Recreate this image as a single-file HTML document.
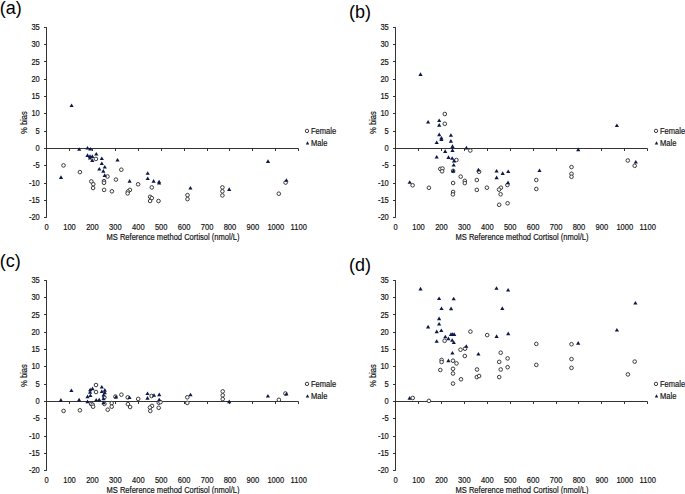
<!DOCTYPE html>
<html><head><meta charset="utf-8"><style>
html,body{margin:0;padding:0;background:#fff;}
body{width:685px;height:494px;overflow:hidden;}
svg{display:block;font-family:"Liberation Sans",sans-serif;}
</style></head><body>
<svg width="685" height="494" viewBox="0 0 685 494">
<g transform="translate(0,0)">
<text x="-0.2" y="14.2" font-size="18" fill="#000">(a)</text>
<path d="M46.5 27.26V217.78" stroke="#333" stroke-width="1" fill="none"/>
<path d="M46.5 148.5H298.5" stroke="#333" stroke-width="1" fill="none"/>
<path d="M44 27.5H46.5M44 44.5H46.5M44 61.5H46.5M44 79.5H46.5M44 96.5H46.5M44 113.5H46.5M44 131.5H46.5M44 148.5H46.5M44 165.5H46.5M44 183.5H46.5M44 200.5H46.5M44 217.5H46.5M69.5 148.5V151.0M92.5 148.5V151.0M115.5 148.5V151.0M138.5 148.5V151.0M161.5 148.5V151.0M184.5 148.5V151.0M207.5 148.5V151.0M229.5 148.5V151.0M252.5 148.5V151.0M275.5 148.5V151.0M298.5 148.5V151.0" stroke="#333" stroke-width="1" fill="none"/>
<g font-size="8.8" fill="#111" stroke="#111" stroke-width="0.18">
<text transform="translate(39.8,29.86) scale(0.86,1)" text-anchor="end">35</text>
<text transform="translate(39.8,47.18) scale(0.86,1)" text-anchor="end">30</text>
<text transform="translate(39.8,64.5) scale(0.86,1)" text-anchor="end">25</text>
<text transform="translate(39.8,81.82) scale(0.86,1)" text-anchor="end">20</text>
<text transform="translate(39.8,99.14) scale(0.86,1)" text-anchor="end">15</text>
<text transform="translate(39.8,116.46) scale(0.86,1)" text-anchor="end">10</text>
<text transform="translate(39.8,133.78) scale(0.86,1)" text-anchor="end">5</text>
<text transform="translate(39.8,151.1) scale(0.86,1)" text-anchor="end">0</text>
<text transform="translate(39.8,168.42) scale(0.86,1)" text-anchor="end">-5</text>
<text transform="translate(39.8,185.74) scale(0.86,1)" text-anchor="end">-10</text>
<text transform="translate(39.8,203.06) scale(0.86,1)" text-anchor="end">-15</text>
<text transform="translate(39.8,220.38) scale(0.86,1)" text-anchor="end">-20</text>
<text transform="translate(46.6,229.6) scale(0.86,1)" text-anchor="middle">0</text>
<text transform="translate(69.52,229.6) scale(0.86,1)" text-anchor="middle">100</text>
<text transform="translate(92.44,229.6) scale(0.86,1)" text-anchor="middle">200</text>
<text transform="translate(115.36,229.6) scale(0.86,1)" text-anchor="middle">300</text>
<text transform="translate(138.28,229.6) scale(0.86,1)" text-anchor="middle">400</text>
<text transform="translate(161.2,229.6) scale(0.86,1)" text-anchor="middle">500</text>
<text transform="translate(184.12,229.6) scale(0.86,1)" text-anchor="middle">600</text>
<text transform="translate(207.04,229.6) scale(0.86,1)" text-anchor="middle">700</text>
<text transform="translate(229.96,229.6) scale(0.86,1)" text-anchor="middle">800</text>
<text transform="translate(252.88,229.6) scale(0.86,1)" text-anchor="middle">900</text>
<text transform="translate(275.8,229.6) scale(0.86,1)" text-anchor="middle">1000</text>
<text transform="translate(298.72,229.6) scale(0.86,1)" text-anchor="middle">1100</text>
<text transform="translate(173,240.2) scale(0.86,1)" text-anchor="middle">MS Reference method Cortisol (nmol/L)</text>
<text transform="translate(26.8,122.6) rotate(-90) scale(0.86,1)" text-anchor="middle">% bias</text>
<text transform="translate(311,133.5) scale(0.92,1)" font-size="8.2">Female</text>
<text transform="translate(311,145.8) scale(0.92,1)" font-size="8.2">Male</text>
</g>
<circle cx="307" cy="130.9" r="1.7" fill="#fff" stroke="#3a3a3a" stroke-width="1.0"/>
<path d="M307.5 141.19L309.2 144.49H305.8Z" fill="#0c1848"/>
</g>
<g transform="translate(349,0)">
<text x="0" y="17.8" font-size="18" fill="#000">(b)</text>
<path d="M46.5 27.26V217.78" stroke="#333" stroke-width="1" fill="none"/>
<path d="M46.5 148.5H298.5" stroke="#333" stroke-width="1" fill="none"/>
<path d="M44 27.5H46.5M44 44.5H46.5M44 61.5H46.5M44 79.5H46.5M44 96.5H46.5M44 113.5H46.5M44 131.5H46.5M44 148.5H46.5M44 165.5H46.5M44 183.5H46.5M44 200.5H46.5M44 217.5H46.5M69.5 148.5V151.0M92.5 148.5V151.0M115.5 148.5V151.0M138.5 148.5V151.0M161.5 148.5V151.0M184.5 148.5V151.0M207.5 148.5V151.0M229.5 148.5V151.0M252.5 148.5V151.0M275.5 148.5V151.0M298.5 148.5V151.0" stroke="#333" stroke-width="1" fill="none"/>
<g font-size="8.8" fill="#111" stroke="#111" stroke-width="0.18">
<text transform="translate(39.8,29.86) scale(0.86,1)" text-anchor="end">35</text>
<text transform="translate(39.8,47.18) scale(0.86,1)" text-anchor="end">30</text>
<text transform="translate(39.8,64.5) scale(0.86,1)" text-anchor="end">25</text>
<text transform="translate(39.8,81.82) scale(0.86,1)" text-anchor="end">20</text>
<text transform="translate(39.8,99.14) scale(0.86,1)" text-anchor="end">15</text>
<text transform="translate(39.8,116.46) scale(0.86,1)" text-anchor="end">10</text>
<text transform="translate(39.8,133.78) scale(0.86,1)" text-anchor="end">5</text>
<text transform="translate(39.8,151.1) scale(0.86,1)" text-anchor="end">0</text>
<text transform="translate(39.8,168.42) scale(0.86,1)" text-anchor="end">-5</text>
<text transform="translate(39.8,185.74) scale(0.86,1)" text-anchor="end">-10</text>
<text transform="translate(39.8,203.06) scale(0.86,1)" text-anchor="end">-15</text>
<text transform="translate(39.8,220.38) scale(0.86,1)" text-anchor="end">-20</text>
<text transform="translate(46.6,229.6) scale(0.86,1)" text-anchor="middle">0</text>
<text transform="translate(69.52,229.6) scale(0.86,1)" text-anchor="middle">100</text>
<text transform="translate(92.44,229.6) scale(0.86,1)" text-anchor="middle">200</text>
<text transform="translate(115.36,229.6) scale(0.86,1)" text-anchor="middle">300</text>
<text transform="translate(138.28,229.6) scale(0.86,1)" text-anchor="middle">400</text>
<text transform="translate(161.2,229.6) scale(0.86,1)" text-anchor="middle">500</text>
<text transform="translate(184.12,229.6) scale(0.86,1)" text-anchor="middle">600</text>
<text transform="translate(207.04,229.6) scale(0.86,1)" text-anchor="middle">700</text>
<text transform="translate(229.96,229.6) scale(0.86,1)" text-anchor="middle">800</text>
<text transform="translate(252.88,229.6) scale(0.86,1)" text-anchor="middle">900</text>
<text transform="translate(275.8,229.6) scale(0.86,1)" text-anchor="middle">1000</text>
<text transform="translate(298.72,229.6) scale(0.86,1)" text-anchor="middle">1100</text>
<text transform="translate(173,240.2) scale(0.86,1)" text-anchor="middle">MS Reference method Cortisol (nmol/L)</text>
<text transform="translate(26.8,122.6) rotate(-90) scale(0.86,1)" text-anchor="middle">% bias</text>
<text transform="translate(311,133.5) scale(0.92,1)" font-size="8.2">Female</text>
<text transform="translate(311,145.8) scale(0.92,1)" font-size="8.2">Male</text>
</g>
<circle cx="307" cy="130.9" r="1.7" fill="#fff" stroke="#3a3a3a" stroke-width="1.0"/>
<path d="M307.5 141.19L309.2 144.49H305.8Z" fill="#0c1848"/>
</g>
<g transform="translate(0,253)">
<text x="-0.2" y="14.2" font-size="18" fill="#000">(c)</text>
<path d="M46.5 27.26V217.78" stroke="#333" stroke-width="1" fill="none"/>
<path d="M46.5 148.5H298.5" stroke="#333" stroke-width="1" fill="none"/>
<path d="M44 27.5H46.5M44 44.5H46.5M44 61.5H46.5M44 79.5H46.5M44 96.5H46.5M44 113.5H46.5M44 131.5H46.5M44 148.5H46.5M44 165.5H46.5M44 183.5H46.5M44 200.5H46.5M44 217.5H46.5M69.5 148.5V151.0M92.5 148.5V151.0M115.5 148.5V151.0M138.5 148.5V151.0M161.5 148.5V151.0M184.5 148.5V151.0M207.5 148.5V151.0M229.5 148.5V151.0M252.5 148.5V151.0M275.5 148.5V151.0M298.5 148.5V151.0" stroke="#333" stroke-width="1" fill="none"/>
<g font-size="8.8" fill="#111" stroke="#111" stroke-width="0.18">
<text transform="translate(39.8,29.86) scale(0.86,1)" text-anchor="end">35</text>
<text transform="translate(39.8,47.18) scale(0.86,1)" text-anchor="end">30</text>
<text transform="translate(39.8,64.5) scale(0.86,1)" text-anchor="end">25</text>
<text transform="translate(39.8,81.82) scale(0.86,1)" text-anchor="end">20</text>
<text transform="translate(39.8,99.14) scale(0.86,1)" text-anchor="end">15</text>
<text transform="translate(39.8,116.46) scale(0.86,1)" text-anchor="end">10</text>
<text transform="translate(39.8,133.78) scale(0.86,1)" text-anchor="end">5</text>
<text transform="translate(39.8,151.1) scale(0.86,1)" text-anchor="end">0</text>
<text transform="translate(39.8,168.42) scale(0.86,1)" text-anchor="end">-5</text>
<text transform="translate(39.8,185.74) scale(0.86,1)" text-anchor="end">-10</text>
<text transform="translate(39.8,203.06) scale(0.86,1)" text-anchor="end">-15</text>
<text transform="translate(39.8,220.38) scale(0.86,1)" text-anchor="end">-20</text>
<text transform="translate(46.6,229.6) scale(0.86,1)" text-anchor="middle">0</text>
<text transform="translate(69.52,229.6) scale(0.86,1)" text-anchor="middle">100</text>
<text transform="translate(92.44,229.6) scale(0.86,1)" text-anchor="middle">200</text>
<text transform="translate(115.36,229.6) scale(0.86,1)" text-anchor="middle">300</text>
<text transform="translate(138.28,229.6) scale(0.86,1)" text-anchor="middle">400</text>
<text transform="translate(161.2,229.6) scale(0.86,1)" text-anchor="middle">500</text>
<text transform="translate(184.12,229.6) scale(0.86,1)" text-anchor="middle">600</text>
<text transform="translate(207.04,229.6) scale(0.86,1)" text-anchor="middle">700</text>
<text transform="translate(229.96,229.6) scale(0.86,1)" text-anchor="middle">800</text>
<text transform="translate(252.88,229.6) scale(0.86,1)" text-anchor="middle">900</text>
<text transform="translate(275.8,229.6) scale(0.86,1)" text-anchor="middle">1000</text>
<text transform="translate(298.72,229.6) scale(0.86,1)" text-anchor="middle">1100</text>
<text transform="translate(173,240.2) scale(0.86,1)" text-anchor="middle">MS Reference method Cortisol (nmol/L)</text>
<text transform="translate(26.8,122.6) rotate(-90) scale(0.86,1)" text-anchor="middle">% bias</text>
<text transform="translate(311,133.5) scale(0.92,1)" font-size="8.2">Female</text>
<text transform="translate(311,145.8) scale(0.92,1)" font-size="8.2">Male</text>
</g>
<circle cx="307" cy="130.9" r="1.7" fill="#fff" stroke="#3a3a3a" stroke-width="1.0"/>
<path d="M307.5 141.19L309.2 144.49H305.8Z" fill="#0c1848"/>
</g>
<g transform="translate(349,253)">
<text x="0" y="17.8" font-size="18" fill="#000">(d)</text>
<path d="M46.5 27.26V217.78" stroke="#333" stroke-width="1" fill="none"/>
<path d="M46.5 148.5H298.5" stroke="#333" stroke-width="1" fill="none"/>
<path d="M44 27.5H46.5M44 44.5H46.5M44 61.5H46.5M44 79.5H46.5M44 96.5H46.5M44 113.5H46.5M44 131.5H46.5M44 148.5H46.5M44 165.5H46.5M44 183.5H46.5M44 200.5H46.5M44 217.5H46.5M69.5 148.5V151.0M92.5 148.5V151.0M115.5 148.5V151.0M138.5 148.5V151.0M161.5 148.5V151.0M184.5 148.5V151.0M207.5 148.5V151.0M229.5 148.5V151.0M252.5 148.5V151.0M275.5 148.5V151.0M298.5 148.5V151.0" stroke="#333" stroke-width="1" fill="none"/>
<g font-size="8.8" fill="#111" stroke="#111" stroke-width="0.18">
<text transform="translate(39.8,29.86) scale(0.86,1)" text-anchor="end">35</text>
<text transform="translate(39.8,47.18) scale(0.86,1)" text-anchor="end">30</text>
<text transform="translate(39.8,64.5) scale(0.86,1)" text-anchor="end">25</text>
<text transform="translate(39.8,81.82) scale(0.86,1)" text-anchor="end">20</text>
<text transform="translate(39.8,99.14) scale(0.86,1)" text-anchor="end">15</text>
<text transform="translate(39.8,116.46) scale(0.86,1)" text-anchor="end">10</text>
<text transform="translate(39.8,133.78) scale(0.86,1)" text-anchor="end">5</text>
<text transform="translate(39.8,151.1) scale(0.86,1)" text-anchor="end">0</text>
<text transform="translate(39.8,168.42) scale(0.86,1)" text-anchor="end">-5</text>
<text transform="translate(39.8,185.74) scale(0.86,1)" text-anchor="end">-10</text>
<text transform="translate(39.8,203.06) scale(0.86,1)" text-anchor="end">-15</text>
<text transform="translate(39.8,220.38) scale(0.86,1)" text-anchor="end">-20</text>
<text transform="translate(46.6,229.6) scale(0.86,1)" text-anchor="middle">0</text>
<text transform="translate(69.52,229.6) scale(0.86,1)" text-anchor="middle">100</text>
<text transform="translate(92.44,229.6) scale(0.86,1)" text-anchor="middle">200</text>
<text transform="translate(115.36,229.6) scale(0.86,1)" text-anchor="middle">300</text>
<text transform="translate(138.28,229.6) scale(0.86,1)" text-anchor="middle">400</text>
<text transform="translate(161.2,229.6) scale(0.86,1)" text-anchor="middle">500</text>
<text transform="translate(184.12,229.6) scale(0.86,1)" text-anchor="middle">600</text>
<text transform="translate(207.04,229.6) scale(0.86,1)" text-anchor="middle">700</text>
<text transform="translate(229.96,229.6) scale(0.86,1)" text-anchor="middle">800</text>
<text transform="translate(252.88,229.6) scale(0.86,1)" text-anchor="middle">900</text>
<text transform="translate(275.8,229.6) scale(0.86,1)" text-anchor="middle">1000</text>
<text transform="translate(298.72,229.6) scale(0.86,1)" text-anchor="middle">1100</text>
<text transform="translate(173,240.2) scale(0.86,1)" text-anchor="middle">MS Reference method Cortisol (nmol/L)</text>
<text transform="translate(26.8,122.6) rotate(-90) scale(0.86,1)" text-anchor="middle">% bias</text>
<text transform="translate(311,133.5) scale(0.92,1)" font-size="8.2">Female</text>
<text transform="translate(311,145.8) scale(0.92,1)" font-size="8.2">Male</text>
</g>
<circle cx="307" cy="130.9" r="1.7" fill="#fff" stroke="#3a3a3a" stroke-width="1.0"/>
<path d="M307.5 141.19L309.2 144.49H305.8Z" fill="#0c1848"/>
</g>
<g fill="#fff" stroke="#3a3a3a" stroke-width="1.0"><circle cx="63.5" cy="165.4" r="1.8"/><circle cx="79.9" cy="172.1" r="1.8"/><circle cx="95.9" cy="158.9" r="1.8"/><circle cx="107.5" cy="176.5" r="1.8"/><circle cx="121.3" cy="169.7" r="1.8"/><circle cx="115.9" cy="179.6" r="1.8"/><circle cx="91.3" cy="181.4" r="1.8"/><circle cx="93.3" cy="184.2" r="1.8"/><circle cx="93.1" cy="188" r="1.8"/><circle cx="104" cy="181.1" r="1.8"/><circle cx="104" cy="182.8" r="1.8"/><circle cx="104.1" cy="189.9" r="1.8"/><circle cx="111.9" cy="191.3" r="1.8"/><circle cx="138.1" cy="184.3" r="1.8"/><circle cx="151.8" cy="187.4" r="1.8"/><circle cx="129.9" cy="189.9" r="1.8"/><circle cx="127.9" cy="191.6" r="1.8"/><circle cx="127.6" cy="193.4" r="1.8"/><circle cx="150.1" cy="196.8" r="1.8"/><circle cx="151.8" cy="198.1" r="1.8"/><circle cx="150.1" cy="201" r="1.8"/><circle cx="158.5" cy="201" r="1.8"/><circle cx="187.5" cy="195.1" r="1.8"/><circle cx="187.5" cy="199.1" r="1.8"/><circle cx="222.4" cy="187.4" r="1.8"/><circle cx="222.4" cy="191.3" r="1.8"/><circle cx="222.4" cy="195.4" r="1.8"/><circle cx="278.8" cy="193.7" r="1.8"/><circle cx="285.6" cy="182.6" r="1.8"/></g>
<path d="M71.6 103.42L73.7 107.02H69.5Z" fill="#0c1848"/><path d="M61 175.32L63.1 178.92H58.9Z" fill="#0c1848"/><path d="M79.2 147.22L81.3 150.82H77.1Z" fill="#0c1848"/><path d="M87.5 145.92L89.6 149.52H85.4Z" fill="#0c1848"/><path d="M90.3 147.02L92.4 150.62H88.2Z" fill="#0c1848"/><path d="M96.3 151.92L98.4 155.52H94.2Z" fill="#0c1848"/><path d="M87.5 153.32L89.6 156.92H85.4Z" fill="#0c1848"/><path d="M90 154.32L92.1 157.92H87.9Z" fill="#0c1848"/><path d="M92.3 154.32L94.4 157.92H90.2Z" fill="#0c1848"/><path d="M90 155.92L92.1 159.52H87.9Z" fill="#0c1848"/><path d="M92.3 158.32L94.4 161.92H90.2Z" fill="#0c1848"/><path d="M101.8 156.42L103.9 160.02H99.7Z" fill="#0c1848"/><path d="M101.8 161.42L103.9 165.02H99.7Z" fill="#0c1848"/><path d="M117.5 157.92L119.6 161.52H115.4Z" fill="#0c1848"/><path d="M104.8 164.92L106.9 168.52H102.7Z" fill="#0c1848"/><path d="M99.3 166.92L101.4 170.52H97.2Z" fill="#0c1848"/><path d="M103.3 169.12L105.4 172.72H101.2Z" fill="#0c1848"/><path d="M104.7 173.32L106.8 176.92H102.6Z" fill="#0c1848"/><path d="M147.7 171.22L149.8 174.82H145.6Z" fill="#0c1848"/><path d="M147.7 176.42L149.8 180.02H145.6Z" fill="#0c1848"/><path d="M129.6 179.12L131.7 182.72H127.5Z" fill="#0c1848"/><path d="M153.6 179.12L155.7 182.72H151.5Z" fill="#0c1848"/><path d="M159.1 179.72L161.2 183.32H157Z" fill="#0c1848"/><path d="M159.1 180.92L161.2 184.52H157Z" fill="#0c1848"/><path d="M190.4 186.02L192.5 189.62H188.3Z" fill="#0c1848"/><path d="M229.2 187.32L231.3 190.92H227.1Z" fill="#0c1848"/><path d="M268 159.32L270.1 162.92H265.9Z" fill="#0c1848"/><path d="M286.4 178.22L288.5 181.82H284.3Z" fill="#0c1848"/>
<g fill="#fff" stroke="#3a3a3a" stroke-width="1.0"><circle cx="444.8" cy="114" r="1.8"/><circle cx="444.8" cy="123.8" r="1.8"/><circle cx="470.3" cy="150.5" r="1.8"/><circle cx="456.4" cy="160" r="1.8"/><circle cx="440.3" cy="168.9" r="1.8"/><circle cx="442.5" cy="168.5" r="1.8"/><circle cx="442.1" cy="171.3" r="1.8"/><circle cx="453.1" cy="170.9" r="1.8"/><circle cx="460.7" cy="176.6" r="1.8"/><circle cx="464.8" cy="180.9" r="1.8"/><circle cx="464.8" cy="183.1" r="1.8"/><circle cx="453.1" cy="183" r="1.8"/><circle cx="453.1" cy="192" r="1.8"/><circle cx="452.9" cy="194.4" r="1.8"/><circle cx="412.6" cy="185.3" r="1.8"/><circle cx="428.9" cy="187.8" r="1.8"/><circle cx="479.1" cy="171.8" r="1.8"/><circle cx="476.8" cy="180" r="1.8"/><circle cx="476.8" cy="189.9" r="1.8"/><circle cx="486.9" cy="187.7" r="1.8"/><circle cx="500.9" cy="187.7" r="1.8"/><circle cx="499" cy="189.6" r="1.8"/><circle cx="500.6" cy="194.3" r="1.8"/><circle cx="499.2" cy="204.8" r="1.8"/><circle cx="507.6" cy="203.3" r="1.8"/><circle cx="507.4" cy="185" r="1.8"/><circle cx="536.3" cy="180" r="1.8"/><circle cx="536.3" cy="189" r="1.8"/><circle cx="627.8" cy="160.5" r="1.8"/><circle cx="634.7" cy="165.8" r="1.8"/><circle cx="571.5" cy="167.1" r="1.8"/><circle cx="571.5" cy="173.8" r="1.8"/><circle cx="571.5" cy="176.8" r="1.8"/></g>
<path d="M420.5 72.32L422.6 75.92H418.4Z" fill="#0c1848"/><path d="M428.1 120.02L430.2 123.62H426Z" fill="#0c1848"/><path d="M439.2 118.42L441.3 122.02H437.1Z" fill="#0c1848"/><path d="M439.2 123.12L441.3 126.72H437.1Z" fill="#0c1848"/><path d="M439.2 132.62L441.3 136.22H437.1Z" fill="#0c1848"/><path d="M441.4 135.92L443.5 139.52H439.3Z" fill="#0c1848"/><path d="M441.4 137.32L443.5 140.92H439.3Z" fill="#0c1848"/><path d="M436.7 140.52L438.8 144.12H434.6Z" fill="#0c1848"/><path d="M450.9 133.22L453 136.82H448.8Z" fill="#0c1848"/><path d="M450.9 139.12L453 142.72H448.8Z" fill="#0c1848"/><path d="M452.5 144.32L454.6 147.92H450.4Z" fill="#0c1848"/><path d="M452.5 148.32L454.6 151.92H450.4Z" fill="#0c1848"/><path d="M445.2 149.32L447.3 152.92H443.1Z" fill="#0c1848"/><path d="M466.4 145.82L468.5 149.42H464.3Z" fill="#0c1848"/><path d="M436.7 155.02L438.8 158.62H434.6Z" fill="#0c1848"/><path d="M448.5 155.32L450.6 158.92H446.4Z" fill="#0c1848"/><path d="M452.2 156.22L454.3 159.82H450.1Z" fill="#0c1848"/><path d="M454 158.82L456.1 162.42H451.9Z" fill="#0c1848"/><path d="M453.7 163.02L455.8 166.62H451.6Z" fill="#0c1848"/><path d="M453.3 168.82L455.4 172.42H451.2Z" fill="#0c1848"/><path d="M409.7 180.22L411.8 183.82H407.6Z" fill="#0c1848"/><path d="M478.4 167.82L480.5 171.42H476.3Z" fill="#0c1848"/><path d="M496.6 169.02L498.7 172.62H494.5Z" fill="#0c1848"/><path d="M502.7 171.32L504.8 174.92H500.6Z" fill="#0c1848"/><path d="M508.2 169.52L510.3 173.12H506.1Z" fill="#0c1848"/><path d="M496.6 175.62L498.7 179.22H494.5Z" fill="#0c1848"/><path d="M508 180.62L510.1 184.22H505.9Z" fill="#0c1848"/><path d="M539.5 168.42L541.6 172.02H537.4Z" fill="#0c1848"/><path d="M616.9 123.52L619 127.12H614.8Z" fill="#0c1848"/><path d="M578.2 147.62L580.3 151.22H576.1Z" fill="#0c1848"/><path d="M635.8 160.02L637.9 163.62H633.7Z" fill="#0c1848"/>
<g fill="#fff" stroke="#3a3a3a" stroke-width="1.0"><circle cx="63.6" cy="410.9" r="1.8"/><circle cx="79.9" cy="410.3" r="1.8"/><circle cx="96" cy="385" r="1.8"/><circle cx="96" cy="392" r="1.8"/><circle cx="91.1" cy="403.9" r="1.8"/><circle cx="92.7" cy="404.7" r="1.8"/><circle cx="93.1" cy="406.7" r="1.8"/><circle cx="104.4" cy="397.4" r="1.8"/><circle cx="104.4" cy="403.9" r="1.8"/><circle cx="111.7" cy="403.1" r="1.8"/><circle cx="111.7" cy="406.7" r="1.8"/><circle cx="107.7" cy="409.7" r="1.8"/><circle cx="115.4" cy="396.6" r="1.8"/><circle cx="121.4" cy="394.7" r="1.8"/><circle cx="127.7" cy="397.4" r="1.8"/><circle cx="127.9" cy="404.1" r="1.8"/><circle cx="130.1" cy="407" r="1.8"/><circle cx="138.2" cy="398.9" r="1.8"/><circle cx="151.6" cy="396" r="1.8"/><circle cx="152" cy="405.9" r="1.8"/><circle cx="149.9" cy="407.5" r="1.8"/><circle cx="150.3" cy="411" r="1.8"/><circle cx="158.8" cy="402.7" r="1.8"/><circle cx="160.5" cy="402.1" r="1.8"/><circle cx="158.7" cy="407.8" r="1.8"/><circle cx="187.3" cy="397.3" r="1.8"/><circle cx="187.3" cy="402.9" r="1.8"/><circle cx="222.7" cy="391.4" r="1.8"/><circle cx="222.7" cy="395.3" r="1.8"/><circle cx="222.7" cy="399.1" r="1.8"/><circle cx="285.4" cy="393.5" r="1.8"/><circle cx="278.9" cy="399.8" r="1.8"/></g>
<path d="M60.9 398.12L63 401.72H58.8Z" fill="#0c1848"/><path d="M71.4 388.42L73.5 392.02H69.3Z" fill="#0c1848"/><path d="M79.1 397.82L81.2 401.42H77Z" fill="#0c1848"/><path d="M87.5 394.62L89.6 398.22H85.4Z" fill="#0c1848"/><path d="M87.5 399.62L89.6 403.22H85.4Z" fill="#0c1848"/><path d="M90.4 393.42L92.5 397.02H88.3Z" fill="#0c1848"/><path d="M90.1 390.12L92.2 393.72H88Z" fill="#0c1848"/><path d="M90.2 387.72L92.3 391.32H88.1Z" fill="#0c1848"/><path d="M92.5 386.62L94.6 390.22H90.4Z" fill="#0c1848"/><path d="M96.2 397.92L98.3 401.52H94.1Z" fill="#0c1848"/><path d="M99.2 397.72L101.3 401.32H97.1Z" fill="#0c1848"/><path d="M101.8 384.92L103.9 388.52H99.7Z" fill="#0c1848"/><path d="M101.8 389.42L103.9 393.02H99.7Z" fill="#0c1848"/><path d="M104.8 388.12L106.9 391.72H102.7Z" fill="#0c1848"/><path d="M104.8 390.62L106.9 394.22H102.7Z" fill="#0c1848"/><path d="M103.6 393.02L105.7 396.62H101.5Z" fill="#0c1848"/><path d="M103.5 396.62L105.6 400.22H101.4Z" fill="#0c1848"/><path d="M103.5 400.72L105.6 404.32H101.4Z" fill="#0c1848"/><path d="M116 394.82L118.1 398.42H113.9Z" fill="#0c1848"/><path d="M129.5 395.42L131.6 399.02H127.4Z" fill="#0c1848"/><path d="M147.5 391.42L149.6 395.02H145.4Z" fill="#0c1848"/><path d="M147.5 396.12L149.6 399.72H145.4Z" fill="#0c1848"/><path d="M154 393.22L156.1 396.82H151.9Z" fill="#0c1848"/><path d="M159.2 392.62L161.3 396.22H157.1Z" fill="#0c1848"/><path d="M159.2 397.72L161.3 401.32H157.1Z" fill="#0c1848"/><path d="M190.5 392.72L192.6 396.32H188.4Z" fill="#0c1848"/><path d="M229.2 399.62L231.3 403.22H227.1Z" fill="#0c1848"/><path d="M267.9 394.02L270 397.62H265.8Z" fill="#0c1848"/><path d="M286.4 392.02L288.5 395.62H284.3Z" fill="#0c1848"/>
<g fill="#fff" stroke="#3a3a3a" stroke-width="1.0"><circle cx="412.7" cy="398" r="1.8"/><circle cx="428.9" cy="400.9" r="1.8"/><circle cx="441.6" cy="359.9" r="1.8"/><circle cx="441.6" cy="362" r="1.8"/><circle cx="453" cy="360.7" r="1.8"/><circle cx="456.5" cy="363.4" r="1.8"/><circle cx="440.3" cy="370" r="1.8"/><circle cx="453" cy="368.8" r="1.8"/><circle cx="453" cy="373.5" r="1.8"/><circle cx="461" cy="379.3" r="1.8"/><circle cx="453" cy="383.6" r="1.8"/><circle cx="464.8" cy="356" r="1.8"/><circle cx="444.6" cy="340.8" r="1.8"/><circle cx="470.4" cy="331.6" r="1.8"/><circle cx="460.5" cy="349.7" r="1.8"/><circle cx="465" cy="348.7" r="1.8"/><circle cx="487.2" cy="335.1" r="1.8"/><circle cx="536.3" cy="343.9" r="1.8"/><circle cx="500.7" cy="352.7" r="1.8"/><circle cx="507.6" cy="358.4" r="1.8"/><circle cx="499.2" cy="361.9" r="1.8"/><circle cx="507.6" cy="367.2" r="1.8"/><circle cx="500.7" cy="369.5" r="1.8"/><circle cx="477" cy="369.5" r="1.8"/><circle cx="476.8" cy="377.1" r="1.8"/><circle cx="479.1" cy="376" r="1.8"/><circle cx="499.2" cy="377.1" r="1.8"/><circle cx="536.3" cy="364.9" r="1.8"/><circle cx="571.5" cy="344.2" r="1.8"/><circle cx="571.5" cy="359.1" r="1.8"/><circle cx="571.5" cy="367.9" r="1.8"/><circle cx="634.7" cy="361.6" r="1.8"/><circle cx="627.9" cy="374.4" r="1.8"/></g>
<path d="M420.5 286.82L422.6 290.42H418.4Z" fill="#0c1848"/><path d="M439.1 296.52L441.2 300.12H437Z" fill="#0c1848"/><path d="M453.7 296.72L455.8 300.32H451.6Z" fill="#0c1848"/><path d="M441.5 306.42L443.6 310.02H439.4Z" fill="#0c1848"/><path d="M451.1 306.62L453.2 310.22H449Z" fill="#0c1848"/><path d="M439.1 316.62L441.2 320.22H437Z" fill="#0c1848"/><path d="M439.1 321.92L441.2 325.52H437Z" fill="#0c1848"/><path d="M428.1 324.82L430.2 328.42H426Z" fill="#0c1848"/><path d="M436.7 329.62L438.8 333.22H434.6Z" fill="#0c1848"/><path d="M441.3 328.52L443.4 332.12H439.2Z" fill="#0c1848"/><path d="M451 332.32L453.1 335.92H448.9Z" fill="#0c1848"/><path d="M452.6 332.32L454.7 335.92H450.5Z" fill="#0c1848"/><path d="M454.2 332.32L456.3 335.92H452.1Z" fill="#0c1848"/><path d="M445.3 334.72L447.4 338.32H443.2Z" fill="#0c1848"/><path d="M448.4 336.62L450.5 340.22H446.3Z" fill="#0c1848"/><path d="M452.2 338.22L454.3 341.82H450.1Z" fill="#0c1848"/><path d="M453.8 340.42L455.9 344.02H451.7Z" fill="#0c1848"/><path d="M436.7 339.22L438.8 342.82H434.6Z" fill="#0c1848"/><path d="M466.3 344.22L468.4 347.82H464.2Z" fill="#0c1848"/><path d="M452.4 350.92L454.5 354.52H450.3Z" fill="#0c1848"/><path d="M448.4 358.62L450.5 362.22H446.3Z" fill="#0c1848"/><path d="M409.6 396.12L411.7 399.72H407.5Z" fill="#0c1848"/><path d="M496.5 286.22L498.6 289.82H494.4Z" fill="#0c1848"/><path d="M508.1 287.92L510.2 291.52H506Z" fill="#0c1848"/><path d="M502.3 306.32L504.4 309.92H500.2Z" fill="#0c1848"/><path d="M496.6 334.32L498.7 337.92H494.5Z" fill="#0c1848"/><path d="M508.2 331.62L510.3 335.22H506.1Z" fill="#0c1848"/><path d="M478.4 352.02L480.5 355.62H476.3Z" fill="#0c1848"/><path d="M635.4 300.92L637.5 304.52H633.3Z" fill="#0c1848"/><path d="M616.9 327.92L619 331.52H614.8Z" fill="#0c1848"/><path d="M578.2 341.12L580.3 344.72H576.1Z" fill="#0c1848"/>
</svg>
</body></html>
